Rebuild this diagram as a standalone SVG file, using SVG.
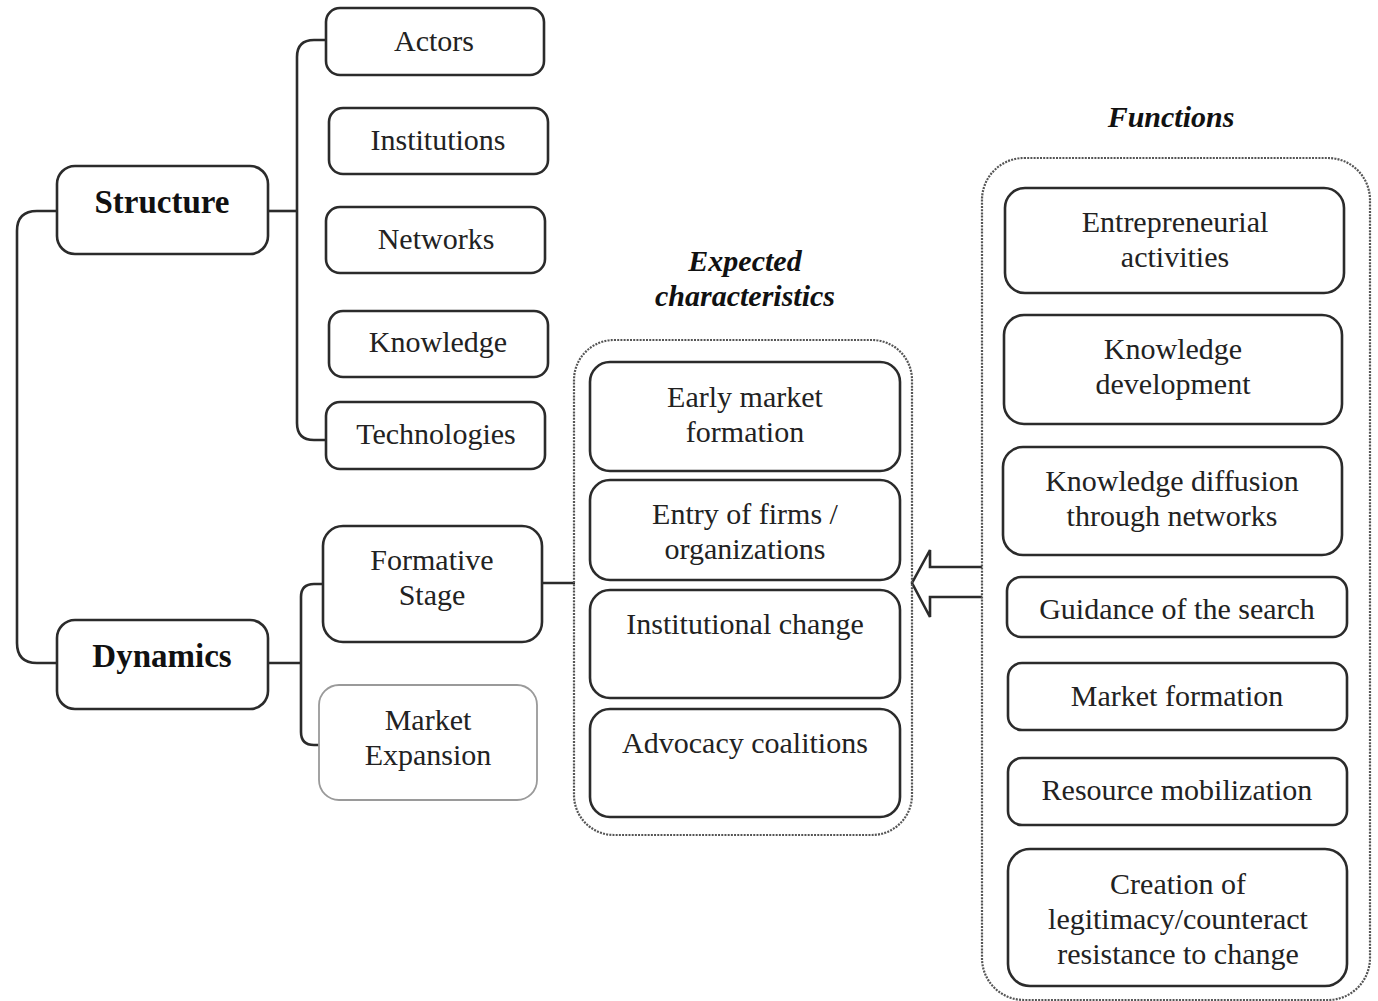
<svg xmlns="http://www.w3.org/2000/svg" width="1378" height="1001" viewBox="0 0 1378 1001">
<style>
.n{fill:#fff;stroke:#2b2b2b;stroke-width:2.6}
.lg{fill:#fff;stroke:#9a9a9a;stroke-width:1.8}
.c{fill:none;stroke:#2b2b2b;stroke-width:2.6}
.d{fill:none;stroke:#555;stroke-width:2.2;stroke-dasharray:2 1.2}
text{font-family:"Liberation Serif","Times New Roman",serif;font-size:30px;fill:#222;text-anchor:middle}
.b{font-weight:bold;font-size:33px;fill:#111}
.t{font-weight:bold;font-style:italic;fill:#111}
</style>
<rect width="1378" height="1001" fill="#fff"/>
<g id="connectors">
<path class="c" d="M57 211 H37 Q17 211 17 231 V643 Q17 663 37 663 H57"/>
<path class="c" d="M268 211 H297"/>
<path class="c" d="M326 40 H314 Q297 40 297 57 V423 Q297 440 314 440 H326"/>
<path class="c" d="M268 663 H301"/>
<path class="c" d="M323 584 H314 Q301 584 301 597 V732 Q301 745 314 745 H319"/>
<path class="c" d="M542 583 H575"/>
<path class="c" d="M982 567 H930 V550 L912 583 L930 617 V597 H982" fill="#fff"/>
</g>
<g id="containers">
<rect id="expected-box" class="d" x="574" y="340" width="338" height="495" rx="40"/>
<rect id="functions-box" class="d" x="982" y="158" width="388" height="842" rx="42"/>
</g>
<g id="structure"><rect class="n" x="57" y="166" width="211" height="88" rx="18"/><text class="b" x="162" y="213">Structure</text></g>
<g id="dynamics"><rect class="n" x="57" y="620" width="211" height="89" rx="18"/><text class="b" x="162" y="667">Dynamics</text></g>
<g id="actors"><rect class="n" x="326" y="8" width="218" height="67" rx="14"/><text x="434" y="51">Actors</text></g>
<g id="institutions"><rect class="n" x="329" y="108" width="219" height="66" rx="14"/><text x="438" y="150">Institutions</text></g>
<g id="networks"><rect class="n" x="326" y="207" width="219" height="66" rx="14"/><text x="436" y="249">Networks</text></g>
<g id="knowledge"><rect class="n" x="329" y="311" width="219" height="66" rx="14"/><text x="438" y="352">Knowledge</text></g>
<g id="technologies"><rect class="n" x="326" y="402" width="219" height="67" rx="14"/><text x="436" y="444">Technologies</text></g>
<g id="formative"><rect class="n" x="323" y="526" width="219" height="116" rx="20"/><text x="432" y="570">Formative</text><text x="432" y="605">Stage</text></g>
<g id="market-expansion"><rect class="lg" x="319" y="685" width="218" height="115" rx="20"/><text x="428" y="730">Market</text><text x="428" y="765">Expansion</text></g>
<g id="expected-title"><text class="t" x="745" y="271">Expected</text><text class="t" x="745" y="306">characteristics</text></g>
<g id="early-market"><rect class="n" x="590" y="362" width="310" height="109" rx="20"/><text x="745" y="407">Early market</text><text x="745" y="442">formation</text></g>
<g id="entry-firms"><rect class="n" x="590" y="480" width="310" height="100" rx="20"/><text x="745" y="524">Entry of firms /</text><text x="745" y="559">organizations</text></g>
<g id="institutional-change"><rect class="n" x="590" y="590" width="310" height="108" rx="20"/><text x="745" y="634">Institutional change</text></g>
<g id="advocacy"><rect class="n" x="590" y="709" width="310" height="108" rx="20"/><text x="745" y="753">Advocacy coalitions</text></g>
<g id="functions-title"><text class="t" x="1171" y="127">Functions</text></g>
<g id="entrepreneurial"><rect class="n" x="1005" y="188" width="339" height="105" rx="20"/><text x="1175" y="232">Entrepreneurial</text><text x="1175" y="267">activities</text></g>
<g id="knowledge-dev"><rect class="n" x="1004" y="315" width="338" height="109" rx="20"/><text x="1173" y="359">Knowledge</text><text x="1173" y="394">development</text></g>
<g id="knowledge-diff"><rect class="n" x="1003" y="447" width="339" height="108" rx="20"/><text x="1172" y="491">Knowledge diffusion</text><text x="1172" y="526">through networks</text></g>
<g id="guidance"><rect class="n" x="1007" y="577" width="340" height="60" rx="14"/><text x="1177" y="619">Guidance of the search</text></g>
<g id="market-formation"><rect class="n" x="1008" y="663" width="339" height="67" rx="14"/><text x="1177" y="706">Market formation</text></g>
<g id="resource"><rect class="n" x="1008" y="758" width="339" height="67" rx="14"/><text x="1177" y="800">Resource mobilization</text></g>
<g id="legitimacy"><rect class="n" x="1008" y="849" width="339" height="137" rx="22"/><text x="1178" y="894">Creation of</text><text x="1178" y="929">legitimacy/counteract</text><text x="1178" y="964">resistance to change</text></g>
</svg>
